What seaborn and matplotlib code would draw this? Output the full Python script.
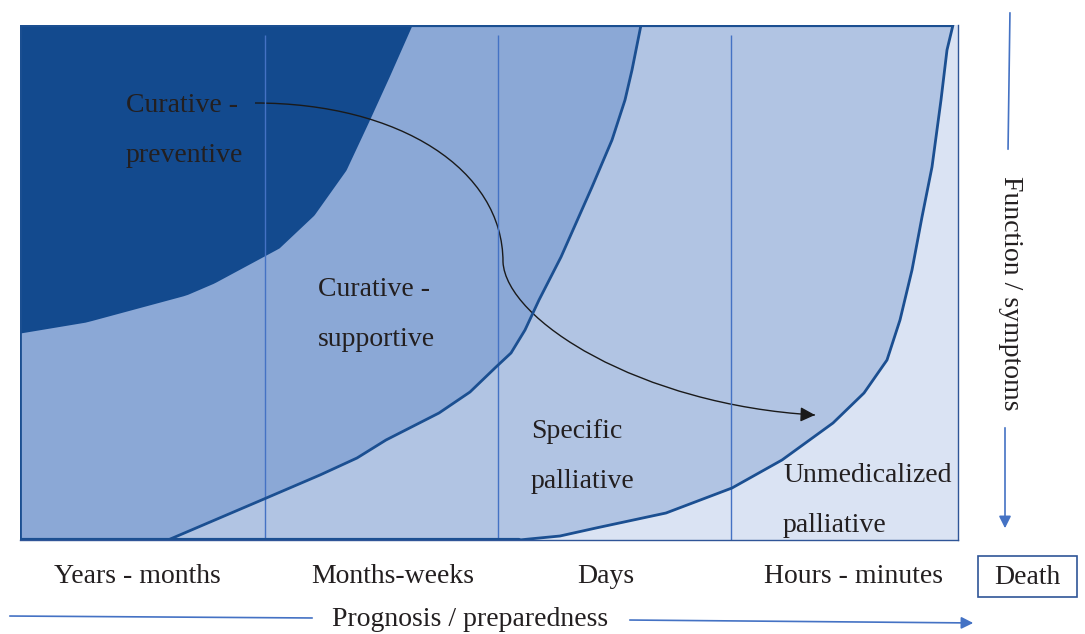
import numpy as np
import pandas as pd
import seaborn as sns
import matplotlib.pyplot as plt
from matplotlib.path import Path
from matplotlib.patches import PathPatch, Rectangle

# conceptual axes: x = position along prognosis (0..938), y = function level (0..515)
stages = ["Years - months", "Months-weeks", "Days", "Hours - minutes"]
stage_pos = [117, 373, 586, 833]
stage_bounds = [245, 478, 711]

# curative - preventive (dark) : right edge of region
dark_x = [0, 66, 166, 194, 259, 294, 326, 348, 369, 392]
dark_y = [207, 218, 245, 257, 292, 325, 370, 417, 463, 515]

# curative - supportive (medium) : right / lower edge
med_x = [0, 148, 244, 300, 337, 366, 419, 450, 476, 491, 505, 519, 541, 572, 592, 605, 612, 621]
med_y = [0, 0, 41, 65, 82, 100, 127, 148, 173, 187, 210, 240, 283, 353, 400, 440, 470, 515]

# specific palliative (light) : right / lower edge
pal_x = [0, 499, 540, 576, 646, 712, 762, 813, 844, 867, 880, 892, 902, 912, 921, 927, 933]
pal_y = [0, 0, 4, 12, 27, 52, 80, 117, 147, 180, 220, 270, 323, 373, 440, 490, 515]

# transition arrow (two cubic segments: start, controls, mid, controls, end)
arr_x = [235, 380, 483, 483, 486, 620, 795]
arr_y = [437, 437, 370, 278, 220, 135, 125]

labels = [("Curative -", "preventive", 106, 435),
          ("Curative -", "supportive", 298, 250),
          ("Specific", "palliative", 511, 108),
          ("Unmedicalized", "palliative", 763, 65)]

sns.set_theme(style="white")
plt.rcParams["font.family"] = ["Liberation Serif", "DejaVu Serif"]

fig = plt.figure(figsize=(10.85, 6.34), dpi=100)
ax = fig.add_axes([20 / 1085, 94 / 634, 938 / 1085, 515 / 634])
ax.set_xlim(0, 938)
ax.set_ylim(0, 515)
ax.set_facecolor("#DAE3F3")

edge = "#1B4F91"
yy = np.linspace(0, 515, 400)

# light region
px = np.interp(yy, pal_y[1:], pal_x[1:])
ax.fill_betweenx(yy, 0, px, color="#B1C4E3", lw=0)
# medium region
mx = np.interp(yy, med_y[1:], med_x[1:])
ax.fill_betweenx(yy, 0, mx, color="#8BA8D6", lw=0)
# dark region
dy = np.linspace(dark_y[0], 515, 200)
dx = np.interp(dy, dark_y, dark_x)
ax.fill_betweenx(dy, 0, dx, color="#134A8E", lw=0)

ax.vlines(stage_bounds, 0, 505, color="#4472C4", lw=1)

df_med = pd.DataFrame({"x": med_x, "y": med_y})
df_pal = pd.DataFrame({"x": pal_x, "y": pal_y})
sns.lineplot(data=df_med, x="x", y="y", sort=False, estimator=None, color=edge, lw=2, ax=ax)
sns.lineplot(data=df_pal, x="x", y="y", sort=False, estimator=None, color=edge, lw=2, ax=ax)

# frame
ax.plot([0, 933], [515, 515], color=edge, lw=3, solid_capstyle="butt")
ax.plot([0, 0], [0, 515], color=edge, lw=2)
ax.plot([0, 499], [0, 0], color=edge, lw=3)
for s in ax.spines.values():
    s.set_color("#2F5597")
    s.set_linewidth(1)
for s in ["top", "left"]:
    ax.spines[s].set_visible(False)

# curved arrow
verts = list(zip(arr_x, arr_y))
codes = [Path.MOVETO] + [Path.CURVE4] * 6
ax.add_patch(PathPatch(Path(verts, codes), fc="none", ec="#1A1A1A", lw=1))
ax.annotate("", xy=(arr_x[-1], arr_y[-1]), xytext=(arr_x[-1] - 12, arr_y[-1] + 0.5),
            arrowprops=dict(arrowstyle="-|>", color="#1A1A1A", lw=1, mutation_scale=22,
                            shrinkA=0, shrinkB=0))

for l1, l2, x, y in labels:
    ax.text(x, y, l1, fontsize=20, color="#231F20", va="center", ha="left")
    ax.text(x, y - 50, l2, fontsize=20, color="#231F20", va="center", ha="left")

ax.set_xticks(stage_pos)
ax.set_xticklabels(stages, fontsize=20, color="#231F20")
ax.set_yticks([])
ax.tick_params(axis="x", length=0, pad=17)
ax.set_xlabel("")
ax.set_ylabel("")

# outer annotations (figure pixels)
fig.add_artist(Rectangle((978 / 1085, 1 - 597 / 634), 99 / 1085, 41 / 634, transform=fig.transFigure,
                         fc="white", ec="#2F5597", lw=1.2))
fig.text(1027 / 1085, 1 - 577 / 634, "Death", fontsize=20, color="#231F20", ha="center", va="center")
fig.text(470 / 1085, 1 - 619 / 634, "Prognosis / preparedness", fontsize=20, color="#231F20",
         ha="center", va="center")
fig.text(1010 / 1085, 1 - 293 / 634, "Function / symptoms", fontsize=20, color="#231F20",
         ha="center", va="center", rotation=-90)

ax.annotate("", xy=(315, 634 - 618), xytext=(7, 634 - 616), xycoords="figure pixels",
            textcoords="figure pixels", arrowprops=dict(arrowstyle="-", color="#4472C4", lw=1.2))
ax.annotate("", xy=(976, 634 - 623), xytext=(627, 634 - 620), xycoords="figure pixels",
            textcoords="figure pixels", arrowprops=dict(arrowstyle="-|>", color="#4472C4", lw=1.2,
                                                        mutation_scale=18))
ax.annotate("", xy=(1008, 634 - 152), xytext=(1010, 634 - 10), xycoords="figure pixels",
            textcoords="figure pixels", arrowprops=dict(arrowstyle="-", color="#4472C4", lw=1.2))
ax.annotate("", xy=(1005, 634 - 531), xytext=(1005, 634 - 425), xycoords="figure pixels",
            textcoords="figure pixels", arrowprops=dict(arrowstyle="-|>", color="#4472C4", lw=1.2,
                                                        mutation_scale=18))

fig.savefig("out.png", dpi=100)
